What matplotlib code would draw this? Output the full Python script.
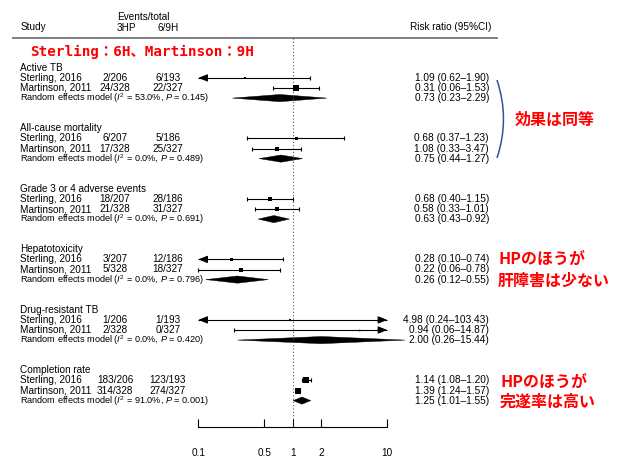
import matplotlib
matplotlib.use("Agg")
import matplotlib.pyplot as plt
from matplotlib.patches import Polygon, PathPatch
from matplotlib.path import Path
from matplotlib.ticker import NullLocator, FixedLocator

plt.rcParams['font.family'] = ['Liberation Sans', 'Noto Sans CJK JP']
plt.rcParams['mathtext.fontset'] = 'custom'
plt.rcParams['mathtext.rm'] = 'Liberation Sans'
plt.rcParams['mathtext.it'] = 'Liberation Sans:italic'

# ---------------- data ----------------
groups = ['Active TB', 'All-cause mortality', 'Grade 3 or 4 adverse events',
          'Hepatotoxicity', 'Drug-resistant TB', 'Completion rate']
studies = ['Sterling, 2016', 'Martinson, 2011']
events_3hp = [['2/206', '24/328'], ['6/207', '17/328'], ['18/207', '21/328'],
              ['3/207', '5/328'], ['1/206', '2/328'], ['183/206', '314/328']]
events_69h = [['6/193', '22/327'], ['5/186', '25/327'], ['28/186', '31/327'],
              ['12/186', '18/327'], ['1/193', '0/327'], ['123/193', '274/327']]
rr_est = [[1.09, 0.31], [0.68, 1.08], [0.68, 0.58], [0.28, 0.22], [4.98, 0.94], [1.14, 1.39]]
rr_lo = [[0.62, 0.06], [0.37, 0.33], [0.40, 0.33], [0.10, 0.06], [0.24, 0.06], [1.08, 1.24]]
rr_hi = [[1.90, 1.53], [1.23, 3.47], [1.15, 1.01], [0.74, 0.78], [103.43, 14.87], [1.20, 1.57]]
weights = [[30, 6], [25, 9], [25, 25], [12, 9], [2.5, 4], [36, 36]]
pooled_est = [0.73, 0.75, 0.63, 0.26, 2.00, 1.25]
pooled_lo = [0.23, 0.44, 0.43, 0.12, 0.26, 1.01]
pooled_hi = [2.29, 1.27, 0.92, 0.55, 15.44, 1.55]
i2 = ['53.0', '0.0', '0.0', '0.0', '0.0', '91.0']
pvals = ['0.145', '0.489', '0.691', '0.796', '0.420', '0.001']
# in the picture, row k of each group shows the marks of estimate mark_order[k]
mark_order = [1, 0]
xticks = [0.1, 0.5, 1, 2, 10]
xticklabels = ['0.1', '0.5', '1', '2', '10']

# ---------------- layout ----------------
W, H = 619, 467
fig = plt.figure(figsize=(W / 100, H / 100), dpi=100)
ax2 = fig.add_axes([0, 0, 1, 1])
ax2.set_xlim(0, W)
ax2.set_ylim(H, 0)
ax2.axis('off')

x01, x10 = 198.3, 387.3
ax = fig.add_axes([x01 / W, 0, (x10 - x01) / W, 1])
ax.patch.set_alpha(0)
ax.set_xscale('log')
ax.set_xlim(0.1, 10)
ax.set_ylim(H, 0)

PX = 0.72  # points per pixel
FS = 7.2
FS_SMALL = 6.6
FS_RR = 7.3

y_axis = 426.7
y_top = 38


def row_y(g, k):
    return 67.8 + 60.5 * g + 10.1 * k


# header
ax2.text(20.5, 27, 'Study', fontsize=FS, va='center', ha='left')
ax2.text(117, 16.5, 'Events/total', fontsize=FS, va='center', ha='left')
ax2.text(117, 28, '3HP', fontsize=FS, va='center', ha='left')
ax2.text(157, 28, '6/9H', fontsize=FS, va='center', ha='left')
ax2.text(491, 27, 'Risk ratio (95%CI)', fontsize=FS, va='center', ha='right')
ax2.plot([12, 498], [y_top, y_top], color='#808080', lw=1.4, solid_capstyle='butt')

# reference line
ax.plot([1, 1], [y_top, y_axis], color='#555555', lw=0.8, ls=(0, (1, 2)), clip_on=False)

cap_ms = 4.5 * PX
line_kw = dict(color='black', lw=0.8, clip_on=False, solid_capstyle='butt')
arrow_kw = dict(arrowstyle='-|>,head_length=0.55,head_width=0.22',
                color='black', lw=0.8, shrinkA=0, shrinkB=0)

for g, name in enumerate(groups):
    ax2.text(20.5, row_y(g, 0), name, fontsize=FS, va='center', ha='left')
    for k in range(2):
        y = row_y(g, k + 1)
        ax2.text(20.5, y, studies[k], fontsize=FS, va='center', ha='left')
        ax2.text(115, y, events_3hp[g][k], fontsize=FS, va='center', ha='center')
        ax2.text(168, y, events_69h[g][k], fontsize=FS, va='center', ha='center')
        ax2.text(489, y, f"{rr_est[g][k]:.2f} ({rr_lo[g][k]:.2f}\u2013{rr_hi[g][k]:.2f})",
                 fontsize=FS_RR, va='center', ha='right')
        # marks
        j = mark_order[k]
        e, lo, hi = rr_est[g][j], rr_lo[g][j], rr_hi[g][j]
        lo_c, hi_c = max(lo, 0.1), min(hi, 10)
        ax.plot([lo_c, hi_c], [y, y], **line_kw)
        if lo < 0.1:
            ax.annotate('', xy=(0.1, y), xytext=(0.125, y), arrowprops=arrow_kw,
                        annotation_clip=False)
        else:
            ax.plot([lo], [y], marker='|', ms=cap_ms, mew=0.8, color='black', clip_on=False)
        if hi > 10:
            ax.annotate('', xy=(10, y), xytext=(8, y), arrowprops=arrow_kw,
                        annotation_clip=False)
        else:
            ax.plot([hi], [y], marker='|', ms=cap_ms, mew=0.8, color='black', clip_on=False)
        side = weights[g][j] ** 0.5
        ax.plot([e], [y], marker='s', ms=side * PX, color='black', mew=0, clip_on=False)
    # pooled
    y = row_y(g, 3)
    ax2.text(20.5, y + 0.5, f"Random effects model ($I^2$ = {i2[g]}%, $P$ = {pvals[g]})",
             fontsize=FS_SMALL, va='center', ha='left')
    ax2.text(489, y, f"{pooled_est[g]:.2f} ({pooled_lo[g]:.2f}\u2013{pooled_hi[g]:.2f})",
             fontsize=FS_RR, va='center', ha='right')
    hh = 3.6
    poly = Polygon([(pooled_lo[g], y), (pooled_est[g], y - hh), (pooled_hi[g], y),
                    (pooled_est[g], y + hh)], closed=True, facecolor='black',
                   edgecolor='black', lw=0.3, clip_on=False)
    ax.add_patch(poly)

# x axis
for s in ['top', 'left', 'right']:
    ax.spines[s].set_visible(False)
ax.spines['bottom'].set_position(('data', y_axis))
ax.spines['bottom'].set_bounds(0.1, 10)
ax.spines['bottom'].set_linewidth(0.8)
ax.xaxis.set_major_locator(FixedLocator(xticks))
ax.set_xticklabels(xticklabels)
ax.xaxis.set_minor_locator(NullLocator())
ax.tick_params(axis='x', direction='in', length=8 * PX, width=0.8, pad=15, labelsize=FS)
ax.set_yticks([])

# annotations
red = '#FF0000'
ax2.text(30, 52, 'Sterling：6H、Martinson：9H', color=red, fontsize=10.3, fontweight='bold',
         family=['DejaVu Sans Mono', 'Noto Sans CJK JP'], va='center', ha='left')
jp = ['Noto Sans CJK JP']
ax2.text(515, 120, '効果は同等', color=red, fontsize=11.5, fontweight='bold', family=jp,
         va='center', ha='left')
ax2.text(498, 259, 'HPのほうが', color=red, fontsize=11.5, fontweight='bold', family=jp,
         va='center', ha='left')
ax2.text(498, 281, '肝障害は少ない', color=red, fontsize=11.5, fontweight='bold', family=jp,
         va='center', ha='left')
ax2.text(500, 382, 'HPのほうが', color=red, fontsize=11.5, fontweight='bold', family=jp,
         va='center', ha='left')
ax2.text(500, 402, '完遂率は高い', color=red, fontsize=11.5, fontweight='bold', family=jp,
         va='center', ha='left')

bracket = Path([(497, 80), (510, 119), (497, 158)], [Path.MOVETO, Path.CURVE3, Path.CURVE3])
ax2.add_patch(PathPatch(bracket, facecolor='none', edgecolor='#2F5597', lw=1.1))

fig.savefig('out.png', dpi=100)
